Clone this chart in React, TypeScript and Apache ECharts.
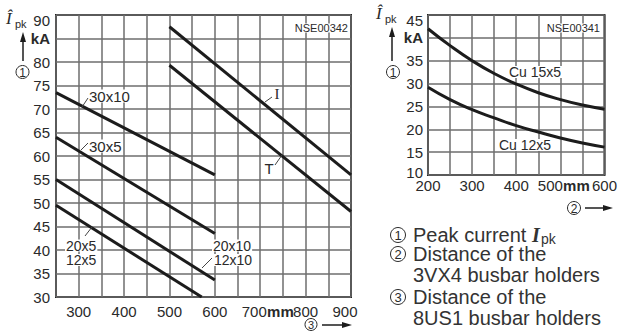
import React, { useEffect, useRef } from "react";
import * as echarts from "echarts";

// Left chart: peak current vs distance of 8US1 busbar holders (mm -> kA)
const line30x10: [number, number][] = [[250, 73.5], [600, 56]];
const line30x5: [number, number][] = [[250, 64], [600, 43.5]];
const line20: [number, number][] = [[250, 55], [600, 33.6]];
const line12: [number, number][] = [[250, 49.5], [571, 30]];
const lineI: [number, number][] = [[500, 87.5], [900, 56]];
const lineT: [number, number][] = [[500, 79.3], [900, 48.2]];

// Right chart: peak current vs distance of 3VX4 busbar holders
const rightDist = [200, 250, 300, 350, 400, 450, 500, 550, 600];
const cu15x5 = [42.0, 38.3, 35.0, 32.2, 29.9, 28.0, 26.5, 25.3, 24.4];
const cu12x5 = [29.2, 26.5, 24.3, 22.5, 20.8, 19.4, 18.1, 17.0, 16.1];

const leftXTicks = [300, 400, 500, 600, 700, 800, 900];
const rightXTicks = [200, 300, 400, 500, 600];

const INK = "#1c1c1c";
const TXT = "#2a2a2a";
const GRIDC = "#6e6e6e";

function circled(cx: number, cy: number, n: string, r = 6.5, fs = 12): any[] {
  return [
    { type: "circle", shape: { cx, cy, r }, style: { fill: "#fff", stroke: TXT, lineWidth: 1 } },
    { type: "text", x: cx, y: cy + 0.5, style: { text: n, fontSize: fs, lineHeight: fs, fontFamily: "Liberation Sans", align: "center", verticalAlign: "middle", fill: TXT } },
  ];
}

function upArrow(x: number, yTop: number, yBot: number): any[] {
  return [
    { type: "line", shape: { x1: x, y1: yBot, x2: x, y2: yTop + 8 }, style: { stroke: INK, lineWidth: 1.5 } },
    { type: "polygon", shape: { points: [[x, yTop], [x - 3, yTop + 10], [x + 3, yTop + 10]] }, style: { fill: INK } },
  ];
}

function rightArrow(xL: number, xR: number, y: number): any[] {
  return [
    { type: "line", shape: { x1: xL, y1: y, x2: xR - 8, y2: y }, style: { stroke: INK, lineWidth: 1.5 } },
    { type: "polygon", shape: { points: [[xR, y], [xR - 10, y - 3], [xR - 10, y + 3]] }, style: { fill: INK } },
  ];
}

function label(text: string, x: number, y: number, align = "left", fs = 15, family = "Liberation Sans"): any {
  return {
    type: "text",
    x,
    y,
    z: 50,
    style: {
      text,
      fontSize: fs,
      lineHeight: fs - 2,
      fontFamily: family,
      align,
      verticalAlign: "middle",
      fill: TXT,
      backgroundColor: "#fff",
      padding: [0, 1],
    },
  };
}

function leader(x1: number, y1: number, x2: number, y2: number): any {
  return { type: "line", z: 50, shape: { x1, y1, x2, y2 }, style: { stroke: "#444", lineWidth: 1 } };
}

function ipk(x: number, y: number): any[] {
  return [
    { type: "text", x, y, style: { text: "Î", fontSize: 17, fontFamily: "Liberation Serif", fontStyle: "italic", fill: TXT, align: "left", verticalAlign: "top" } },
    { type: "text", x: x + 9, y: y + 8, style: { text: "pk", fontSize: 11, fontFamily: "Liberation Sans", fill: TXT, align: "left", verticalAlign: "top" } },
  ];
}

const LEG = { fontSize: 20, lineHeight: 17, fontFamily: "Liberation Sans", fill: "#333", verticalAlign: "middle", align: "left" };

export default function App() {
  const ref = useRef<HTMLDivElement>(null);

  useEffect(() => {
    document.body.style.margin = "0";
    if (!ref.current) return;
    const chart = echarts.init(ref.current, undefined, { renderer: "svg" });

    const axisLabelBase = { fontSize: 15, color: TXT, fontFamily: "Liberation Sans" };
    const base = { fontSize: 15, color: TXT, fontFamily: "Liberation Sans" };
    const rich = {
      k: { ...base, fontWeight: "bold" },
      km: { ...base, fontWeight: "bold", padding: [0, 5, 0, 0] },
      m: { ...base, fontWeight: "bold", padding: [0, 12, 0, 0] },
      t: { ...base, padding: [11, 0, 0, 0] },
      b: { ...base, padding: [0, 0, 5, 0] },
      l10: { ...base, padding: [0, 12, 0, 0] },
      l20: { ...base, padding: [0, 20, 0, 0] },
    };

    const split = { show: true, lineStyle: { color: GRIDC, width: 1.5 } };

    const graphics: any[] = [
      ...ipk(6, 10),
      ...upArrow(23, 32, 61),
      ...circled(22.5, 72, "1"),
      ...ipk(376, 5),
      ...upArrow(392, 27, 61),
      ...circled(393, 72, "1"),
      ...circled(311, 324.5, "3", 6, 11),
      ...rightArrow(322, 352, 325),
      ...circled(574, 208, "2"),
      ...rightArrow(585, 613, 208),
      label("30x10", 88, 96),
      leader(82, 107, 88, 98),
      label("30x5", 88, 146),
      leader(81, 150, 88, 143),
      label("20x5", 65, 245.5, "left", 14),
      label("12x5", 65, 260, "left", 14),
      leader(85, 236, 92, 227),
      label("20x10", 212, 245.5, "left", 14),
      label("12x10", 213, 260, "left", 14),
      leader(202, 268, 212, 258),
      label("I", 277, 94, "center", 15, "Liberation Serif"),
      leader(265, 102, 272, 97),
      label("T", 269, 168, "center", 15),
      leader(275, 165, 282, 155),
      label("NSE00342", 349, 28, "right", 11),
      label("NSE00341", 601, 28, "right", 11),
      label("Cu 15x5", 508, 72, "left", 14),
      label("Cu 12x5", 498, 145, "left", 14),
      ...circled(398, 235, "1", 7.5, 13),
      {
        type: "text", x: 413, y: 235,
        style: {
          text: "{t|Peak current }{i|I}",
          verticalAlign: "middle", align: "left",
          rich: {
            t: { fontSize: 20, lineHeight: 17, fontFamily: "Liberation Sans", fill: "#333" },
            i: { fontSize: 20, lineHeight: 17, fontFamily: "Liberation Serif", fontStyle: "italic", fontWeight: "bold", fill: "#333" },
          },
        },
      },
      { type: "text", x: 541, y: 239, style: { text: "pk", fontSize: 14, lineHeight: 11, fontFamily: "Liberation Sans", fill: "#333", verticalAlign: "middle", align: "left" } },
      ...circled(398, 254, "2", 7.5, 13),
      { type: "text", x: 413, y: 254, style: { ...LEG, text: "Distance of the" } },
      { type: "text", x: 413, y: 275, style: { ...LEG, text: "3VX4 busbar holders" } },
      ...circled(398, 297, "3", 7.5, 13),
      { type: "text", x: 413, y: 297, style: { ...LEG, text: "Distance of the" } },
      { type: "text", x: 413, y: 318, style: { ...LEG, text: "8US1 busbar holders" } },
    ];

    const leftSeries = [line30x10, line30x5, line20, line12, lineI, lineT].map((d) => ({
      type: "line",
      xAxisIndex: 0,
      yAxisIndex: 0,
      data: d,
      symbol: "none",
      lineStyle: { color: INK, width: 3 },
      z: 10,
    }));

    const rightSeries = [cu15x5, cu12x5].map((vals) => ({
      type: "line",
      xAxisIndex: 1,
      yAxisIndex: 1,
      data: rightDist.map((x, i) => [x, vals[i]]),
      symbol: "none",
      smooth: 0.5,
      lineStyle: { color: INK, width: 3 },
      z: 10,
    }));

    chart.setOption({
      animation: false,
      backgroundColor: "#fff",
      grid: [
        { left: 56, top: 15, width: 295, height: 282, show: true, borderColor: "#222", borderWidth: 2, backgroundColor: "transparent" },
        { left: 428, top: 15, width: 181, height: 160, show: true, borderColor: "#222", borderWidth: 2, backgroundColor: "transparent" },
      ],
      xAxis: [
        {
          type: "value", gridIndex: 0, min: 250, max: 900, interval: 50,
          axisLine: { show: false }, axisTick: { show: false }, splitLine: split,
          axisLabel: {
            ...axisLabelBase, margin: 7, rich,
            formatter: (v: number) => {
              if (v === 750) return "{km|mm}";
              if (v === 700) return "{l10|700}";
              if (v === 900) return "{l10|900}";
              return leftXTicks.includes(v) ? String(v) : "";
            },
          },
        },
        {
          type: "value", gridIndex: 1, min: 200, max: 600, interval: 50,
          axisLine: { show: false }, axisTick: { show: false }, splitLine: split,
          axisLabel: {
            ...axisLabelBase, margin: 3, rich,
            formatter: (v: number) => {
              if (v === 550) return "{m|mm}";
              if (v === 500) return "{l20|500}";
              return rightXTicks.includes(v) ? String(v) : "";
            },
          },
        },
      ],
      yAxis: [
        {
          type: "value", gridIndex: 0, min: 30, max: 90, interval: 5,
          axisLine: { show: false }, axisTick: { show: false }, splitLine: split,
          axisLabel: {
            ...axisLabelBase, margin: 6, rich,
            formatter: (v: number) => (v === 85 ? "{k|kA}" : v === 90 ? "{t|90}" : String(v)),
          },
        },
        {
          type: "value", gridIndex: 1, min: 10, max: 45, interval: 5,
          axisLine: { show: false }, axisTick: { show: false }, splitLine: split,
          axisLabel: {
            ...axisLabelBase, margin: 5, rich,
            formatter: (v: number) => (v === 40 ? "{k|kA}" : v === 45 ? "{t|45}" : v === 10 ? "{b|10}" : String(v)),
          },
        },
      ],
      series: [...leftSeries, ...rightSeries],
      graphic: graphics,
    });

    return () => chart.dispose();
  }, []);

  return <div ref={ref} style={{ width: 620, height: 331 }} />;
}
